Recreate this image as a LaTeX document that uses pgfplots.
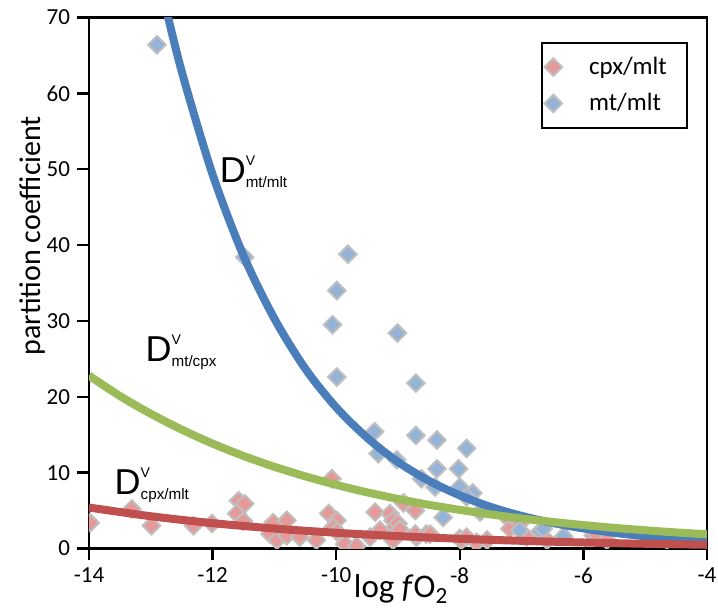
\documentclass[border=0pt]{standalone}
\usepackage{pgfplots}
\pgfplotsset{compat=1.18}
\usepackage{fontspec}
\setmainfont{Carlito}
\newfontfamily\dfont{Liberation Sans}
\usetikzlibrary{calc}

\definecolor{mltred}{RGB}{192,80,77}
\definecolor{mltblue}{RGB}{74,126,187}
\definecolor{mltgreen}{RGB}{155,187,89}
\definecolor{ptred}{RGB}{230,153,153}
\definecolor{ptblue}{RGB}{149,179,215}
\definecolor{ptedge}{RGB}{191,191,191}

% D^V label with sub- and superscript
\newcommand\Dlab[1]{{\dfont\fontsize{18}{18}\selectfont D}%
  \rlap{\raisebox{8.5pt}{\dfont\fontsize{7}{7}\selectfont V}}%
  \raisebox{-2.5pt}{\dfont\fontsize{7.6}{8}\selectfont #1}}

\begin{document}
\begin{tikzpicture}
\begin{axis}[
  scale only axis,
  width=309pt, height=265.5pt,
  xmin=-14, xmax=-4, ymin=0, ymax=70,
  xtick={-14,-12,-10,-8,-6,-4},
  ytick={0,10,20,30,40,50,60,70},
  tick align=outside, tick pos=left,
  major tick length=6pt,
  axis line style={line width=1.2pt},
  every tick/.style={black, line width=1.2pt},
  /pgf/number format/assume math mode=true,
  ticklabel style={font=\fontsize{11.5}{13}\selectfont},
  xlabel={log \textit{f}O\textsubscript{2}},
  ylabel={partition coefficient},
  xlabel style={font=\fontsize{16.5}{18}\selectfont,
    at={(axis description cs:0.505,-0.093)}, anchor=base},
  ylabel style={font=\fontsize{15}{17}\selectfont,
    at={(axis description cs:-0.06,0.589)}, anchor=south},
  clip marker paths=true,
  legend cell align=left,
  legend image code/.code={\draw[#1] plot coordinates {(0pt,0pt)};},
  legend style={at={(0.969,0.954)}, anchor=north east, draw=black,
    line width=1pt, font=\fontsize{12.5}{14}\selectfont,
    inner xsep=1.5pt, inner ysep=6pt, row sep=6pt,
    nodes={inner xsep=4pt, inner ysep=1pt}},
]

\addplot[only marks, mark=square*, mark size=3.1pt,
  mark options={rotate=45, fill=ptred, draw=ptedge, line width=1pt}]
table {
-13.98 3.4
-13.31 5.2
-12.99 3.0
-12.31 3.0
-12.01 3.3
-11.58 6.3
-11.48 5.9
-11.61 4.6
-11.50 3.6
-11.02 3.4
-11.07 1.9
-10.96 1.1
-10.80 3.7
-10.80 1.7
-10.59 1.5
-10.32 1.1
-10.07 9.2
-10.12 4.6
-9.99 3.7
-10.05 2.8
-9.99 2.2
-9.86 0.6
-9.67 0.3
-9.37 4.8
-9.13 4.6
-9.29 2.4
-9.45 1.5
-9.08 3.7
-9.05 2.8
-9.00 3.3
-8.97 2.5
-8.91 6.0
-8.72 5.0
-9.08 1.1
-8.70 1.5
-8.72 1.9
-8.54 1.9
-8.48 1.9
-8.00 1.3
-7.97 1.1
-7.89 1.5
-7.73 0.8
-7.56 1.1
-7.19 3.7
-7.19 2.6
-7.03 3.3
-6.92 1.5
-6.59 1.1
-5.84 1.7
-5.79 1.9
-5.62 1.1
-4.65 1.1
};
\addlegendentry{\kern9.5pt cpx/mlt\kern4.5pt}

\addplot[only marks, mark=square*, mark size=3.1pt,
  mark options={rotate=45, fill=ptblue, draw=ptedge, line width=1pt}]
table {
-12.90 66.4
-11.48 38.4
-9.81 38.8
-9.99 34.0
-10.06 29.5
-9.01 28.4
-9.99 22.6
-8.71 21.8
-8.71 14.9
-9.38 15.4
-8.37 14.3
-7.89 13.2
-9.32 12.5
-9.02 11.7
-8.37 10.5
-8.02 10.5
-8.62 9.2
-8.40 8.1
-8.00 8.1
-7.79 7.3
-7.89 6.8
-7.67 4.8
-8.27 4.1
-7.03 2.4
-6.70 2.3
-6.65 2.6
-6.32 1.6
};
\addlegendentry{\kern9.5pt mt/mlt}

% D mt/mlt
\addplot[mltblue, line width=4pt, smooth, forget plot] table {
-12.8 72.8
-12.5 62.9
-12.0 49.3
-11.5 38.6
-11.0 30.3
-10.5 23.7
-10.0 18.6
-9.5 14.6
-9.0 11.4
-8.5 8.93
-8.0 7.00
-7.5 5.48
-7.0 4.30
-6.5 3.37
-6.0 2.64
-5.5 2.07
-5.0 1.62
-4.5 1.27
-4.0 0.99
};
% D mt/cpx
\addplot[mltgreen, line width=4pt, smooth, forget plot] table {
-14.0 22.8
-13.5 20.1
-13.0 17.76
-12.5 15.67
-12.0 13.83
-11.5 12.2
-11.0 10.77
-10.5 9.51
-10.0 8.39
-9.5 7.40
-9.0 6.53
-8.5 5.76
-8.0 5.09
-7.5 4.49
-7.0 3.96
-6.5 3.50
-6.0 3.09
-5.5 2.72
-5.0 2.40
-4.5 2.12
-4.0 1.87
};
% D cpx/mlt
\addplot[mltred, line width=4pt, smooth, forget plot] table {
-14.0 5.40
-13.0 4.25
-12.0 3.34
-11.0 2.63
-10.0 2.07
-9.0 1.63
-8.0 1.28
-7.0 1.01
-6.0 0.79
-5.0 0.62
-4.0 0.49
};

\node[anchor=base west, inner sep=0pt] at (axis cs:-11.89,48.3) {\Dlab{mt/mlt}};
\node[anchor=base west, inner sep=0pt] at (axis cs:-13.09,24.7) {\Dlab{mt/cpx}};
\node[anchor=base west, inner sep=0pt] at (axis cs:-13.59,7.1) {\Dlab{cpx/mlt}};
\end{axis}
\pgfresetboundingbox
\path[use as bounding box] ($(current axis.south west)+(-44.5pt,-29.5pt)$)
  rectangle ($(current axis.north east)+(5.5pt,8.75pt)$);
\end{tikzpicture}
\end{document}
